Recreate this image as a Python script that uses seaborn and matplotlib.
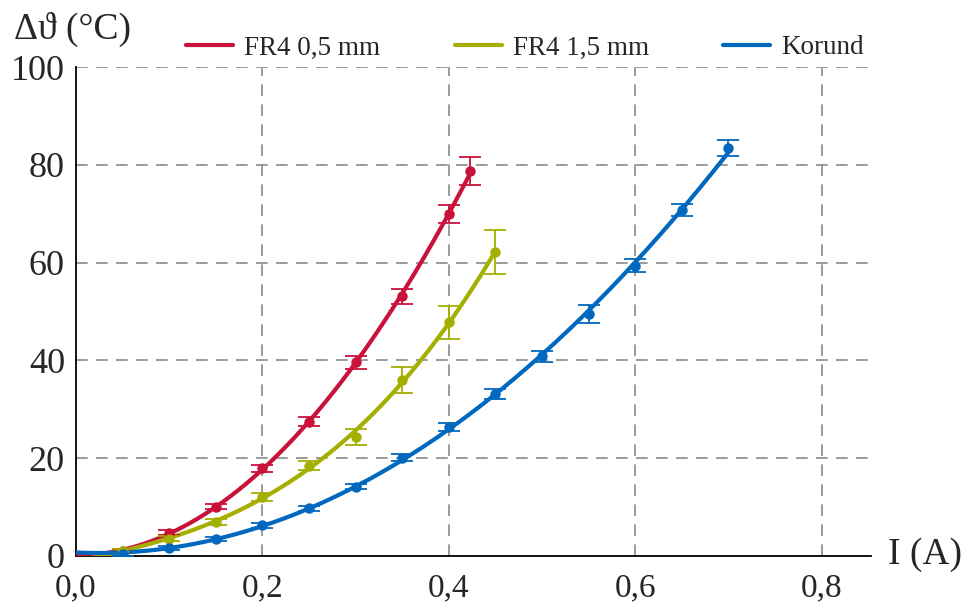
import numpy as np
import pandas as pd
import matplotlib
matplotlib.use("Agg")
import matplotlib.pyplot as plt
import seaborn as sns

# Measured temperature rise vs. current for three substrates
current_fr4_05 = [0.05, 0.10, 0.15, 0.20, 0.25, 0.30, 0.35, 0.40, 0.423]
rise_fr4_05 = [1.0, 4.8, 10.1, 17.9, 27.5, 39.6, 53.1, 69.9, 78.7]
err_fr4_05 = [0.4, 0.5, 0.5, 0.7, 0.9, 1.3, 1.6, 1.9, 2.9]

current_fr4_15 = [0.05, 0.10, 0.15, 0.20, 0.25, 0.30, 0.35, 0.40, 0.45]
rise_fr4_15 = [1.1, 3.5, 7.0, 12.1, 18.5, 24.4, 36.0, 47.8, 62.2]
err_fr4_15 = [0.4, 0.5, 0.6, 0.8, 1.0, 1.6, 2.7, 3.4, 4.5]

current_korund = [0.05, 0.10, 0.15, 0.20, 0.25, 0.30, 0.35, 0.40, 0.45,
                  0.50, 0.55, 0.60, 0.65, 0.70]
rise_korund = [0.4, 1.6, 3.5, 6.3, 9.8, 14.2, 20.1, 26.4, 33.1,
               40.8, 49.5, 59.4, 70.8, 83.4]
err_korund = [0.3, 0.4, 0.4, 0.5, 0.5, 0.6, 0.7, 0.8, 1.0,
              1.2, 1.8, 1.3, 1.2, 1.7]

labels = ["FR4 0,5 mm", "FR4 1,5 mm", "Korund"]
colors = ["#C9123A", "#A5AF00", "#0068BF"]
fit_degrees = [2, 3, 2]

x_ticks = [0.0, 0.2, 0.4, 0.6, 0.8]
x_tick_labels = ["0,0", "0,2", "0,4", "0,6", "0,8"]
y_ticks = [0, 20, 40, 60, 80, 100]

sns.set_style("white")
serif = ["Liberation Serif", "DejaVu Serif"]
plt.rcParams["font.family"] = serif

fig = plt.figure(figsize=(9.68, 6.04), dpi=100)
ax = fig.add_axes([76 / 968, 48 / 604, (871 - 76) / 968, (556 - 67) / 604])

series = [
    (current_fr4_05, rise_fr4_05, err_fr4_05),
    (current_fr4_15, rise_fr4_15, err_fr4_15),
    (current_korund, rise_korund, err_korund),
]

# Polynomial fit curves through the measurements
frames = []
for (xs, ys, _), lab, deg in zip(series, labels, fit_degrees):
    coef = np.polyfit(xs, ys, deg)
    xf = np.linspace(0.0, max(xs), 200)
    frames.append(pd.DataFrame({"I": xf, "dT": np.polyval(coef, xf), "Serie": lab}))
fits = pd.concat(frames, ignore_index=True)

sns.lineplot(data=fits, x="I", y="dT", hue="Serie", palette=dict(zip(labels, colors)),
             linewidth=3.0, ax=ax, legend=False, zorder=3)

for (xs, ys, es), c in zip(series, colors):
    ax.errorbar(xs, ys, yerr=es, fmt="o", color=c, ms=6.5, elinewidth=1.3,
                capsize=8, capthick=1.3, zorder=4)

ax.set_xlim(0, 0.853)
ax.set_ylim(0, 100)
ax.set_xlabel("")
ax.set_ylabel("")

# Dashed grid
for yv in y_ticks[1:]:
    ax.axhline(yv, color="#8a8a8a", lw=1.2, ls=(0, (7, 5)), zorder=1)
for xv in x_ticks[1:]:
    ax.axvline(xv, color="#8a8a8a", lw=1.2, ls=(0, (7, 5)), zorder=1)

for s in ["top", "right"]:
    ax.spines[s].set_visible(False)
for s in ["left", "bottom"]:
    ax.spines[s].set_color("black")
    ax.spines[s].set_linewidth(1.3)

ax.set_xticks(x_ticks)
ax.set_xticklabels(x_tick_labels)
ax.set_xticks(np.arange(0.05, 0.851, 0.05), minor=True)
ax.set_yticks(y_ticks)
ax.set_yticks(np.arange(0, 101, 5), minor=True)
ax.tick_params(axis="both", which="both", direction="in", color="black", width=1.0)
ax.tick_params(axis="both", which="major", length=7)
ax.tick_params(axis="both", which="minor", length=7)
ax.tick_params(axis="x", which="major", pad=12, labelsize=24)
ax.tick_params(axis="y", which="major", pad=8, labelsize=26)

fig.text(14 / 968, 1 - 29 / 604, "Δϑ (°C)", fontsize=27, va="center", ha="left",
         family=serif)
fig.text(888 / 968, 1 - 555 / 604, "I (A)", fontsize=27, va="center", ha="left",
         family=serif)

# Legend entries laid out along the top
handle_x = [186, 455, 723]
for lab, c, hx in zip(labels, colors, handle_x):
    h = plt.Line2D([], [], color=c, lw=3)
    fig.legend([h], [lab], loc="center left",
               bbox_to_anchor=(hx / 968, 1 - 48 / 604), frameon=False,
               fontsize=19.5, handlelength=1.75, handletextpad=0.4,
               borderpad=0, borderaxespad=0)

fig.savefig("out.png", dpi=100)
